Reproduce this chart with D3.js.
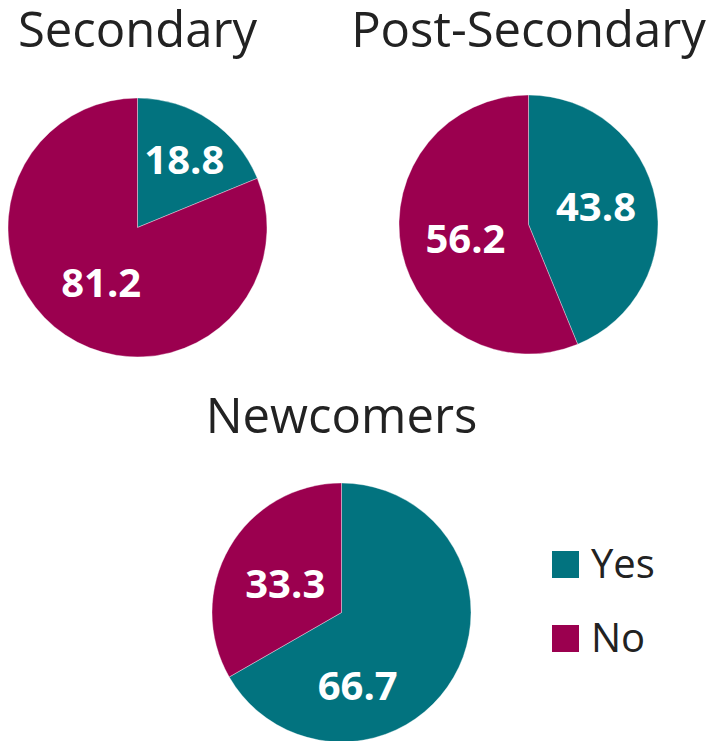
<!DOCTYPE html>
<html>
<head>
<meta charset="utf-8">
<script src="https://cdn.jsdelivr.net/npm/d3@7/dist/d3.min.js"></script>
<style>
  html, body { margin: 0; padding: 0; background: #ffffff; }
  svg { display: block; }
</style>
</head>
<body>
<svg id="chart" width="716" height="741"></svg>
<script>
// Survey answers (percent) for each group
const categories = ["Yes", "No"];
const groups = ["Secondary", "Post-Secondary", "Newcomers"];
const secondaryValues = [18.8, 81.2];
const postSecondaryValues = [43.8, 56.2];
const newcomersValues = [66.7, 33.3];
const seriesValues = [secondaryValues, postSecondaryValues, newcomersValues];

const colors = ["#02737f", "#9b004f"];
const textColor = "#222222";
const fontFamily = "'Open Sans', 'Noto Sans', sans-serif";

const svg = d3.select("#chart");

// Placement of each pie: centre, radius, title baseline
const layout = [
  { cx: 137.5, cy: 227.5, titleY: 47 },
  { cx: 528.5, cy: 224.5, titleY: 47 },
  { cx: 341.5, cy: 612.5, titleY: 433 }
];
const radius = 129.5;

// Label placement per slice: [angle offset from slice middle (deg), distance as share of radius]
const labelPlacement = [
  [[0.6, 0.64], [-0.5, 0.51]],
  [[-4, 0.54], [-1.8, 0.50]],
  [[47.5, 0.58], [-2.5, 0.49]]
];

const pie = d3.pie().sort(null).value(d => d).startAngle(0).endAngle(2 * Math.PI);
const arc = d3.arc().innerRadius(0).outerRadius(radius);
const color = d3.scaleOrdinal().domain(categories).range(colors);

groups.forEach((name, gi) => {
  const L = layout[gi];
  const g = svg.append("g").attr("transform", `translate(${L.cx},${L.cy})`);
  const arcs = pie(seriesValues[gi]);

  g.selectAll("path.slice")
    .data(arcs)
    .join("path")
    .attr("class", "slice")
    .attr("d", arc)
    .attr("fill", (d, i) => color(categories[i]))
    .attr("stroke", "#ffffff")
    .attr("stroke-width", 0.6)
    .attr("stroke-opacity", 0.6);

  g.selectAll("text.val")
    .data(arcs)
    .join("text")
    .attr("class", "val")
    .attr("transform", (d, i) => {
      const [offDeg, frac] = labelPlacement[gi][i];
      const a = (d.startAngle + d.endAngle) / 2 + offDeg * Math.PI / 180;
      const r = radius * frac;
      return `translate(${Math.sin(a) * r},${-Math.cos(a) * r})`;
    })
    .attr("text-anchor", "middle")
    .attr("dy", "0.36em")
    .attr("font-family", fontFamily)
    .attr("font-weight", 700)
    .attr("font-size", 40)
    .attr("fill", "#ffffff")
    .text(d => d3.format(".1f")(d.data));

  svg.append("text")
    .attr("x", L.cx)
    .attr("y", L.titleY)
    .attr("text-anchor", "middle")
    .attr("font-family", fontFamily)
    .attr("font-size", 49)
    .attr("fill", textColor)
    .text(name);
});

// Legend
const legend = svg.append("g").attr("transform", "translate(552,551)");
const legendItems = legend.selectAll("g")
  .data(categories)
  .join("g")
  .attr("transform", (d, i) => `translate(0,${i * 74})`);
legendItems.append("rect")
  .attr("width", 27).attr("height", 27)
  .attr("fill", d => color(d));
legendItems.append("text")
  .attr("x", 39)
  .attr("y", 27)
  .attr("font-family", fontFamily)
  .attr("font-size", 40)
  .attr("fill", textColor)
  .text(d => d);
</script>
</body>
</html>
